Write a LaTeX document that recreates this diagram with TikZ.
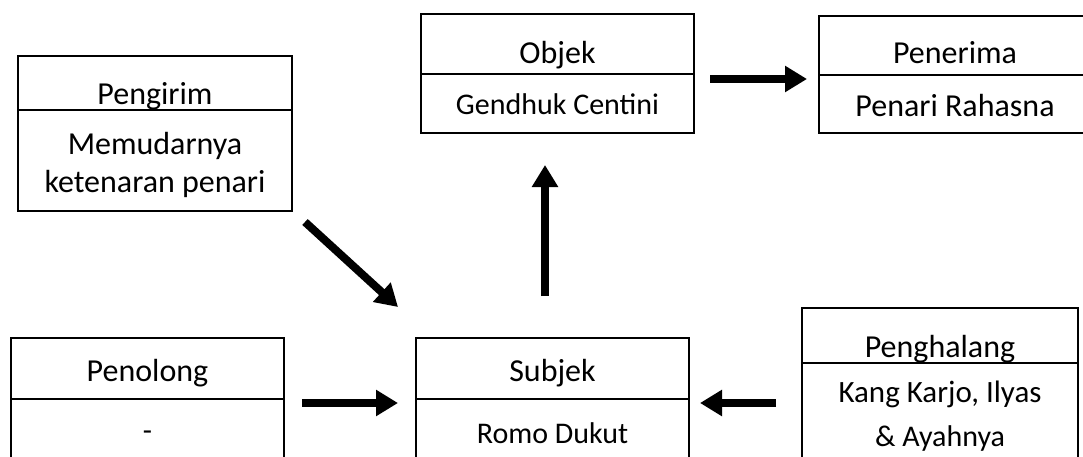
\documentclass[tikz,border=0pt]{standalone}
\usepackage{fontspec}
\setmainfont{Carlito}
\usetikzlibrary{arrows.meta}
\tikzset{
  boxn/.style={draw, line width=2pt, anchor=north west, inner sep=0pt, outer sep=0pt},
  divline/.style={line width=2pt},
  ttl/.style={anchor=base, inner sep=0pt, font=\fontsize{32}{38}\selectfont},
  txt/.style={anchor=base, inner sep=0pt, font=\fontsize{30}{36}\selectfont},
  big/.style={anchor=base, inner sep=0pt, font=\fontsize{32}{38}\selectfont},
  arr/.style={line width=8pt, -{Triangle[length=22pt,width=25pt]}}
}
\begin{document}
\begin{tikzpicture}[x=1pt,y=-1pt]
\useasboundingbox (0,0) rectangle (1083,457);
\clip (0,0) rectangle (1083,457);
% boxes
\node[boxn, minimum width=274pt, minimum height=155pt] (pengirim) at (18,56) {};
\node[boxn, minimum width=273pt, minimum height=119pt] (objek) at (421,14) {};
\node[boxn, minimum width=273pt, minimum height=117pt] (penerima) at (819,16) {};
\node[boxn, minimum width=273pt, minimum height=140pt] (penolong) at (11,338) {};
\node[boxn, minimum width=273pt, minimum height=140pt] (subjek) at (416,338) {};
\node[boxn, minimum width=276pt, minimum height=170pt] (penghalang) at (802,308) {};
% dividers
\draw[divline] (pengirim.west |- 0,110) -- (pengirim.east |- 0,110);
\draw[divline] (objek.west |- 0,74) -- (objek.east |- 0,74);
\draw[divline] (penerima.west |- 0,75) -- (penerima.east |- 0,75);
\draw[divline] (penolong.west |- 0,399) -- (penolong.east |- 0,399);
\draw[divline] (subjek.west |- 0,399) -- (subjek.east |- 0,399);
\draw[divline] (penghalang.west |- 0,363) -- (penghalang.east |- 0,363);
% titles
\begin{scope}
\clip (18,56) rectangle (292,109);
\node[ttl] (tpengirim) at (155,105) {Pengirim};
\end{scope}
\node[ttl] (tobjek) at (557.5,64) {Objek};
\node[ttl] (tpenerima) at (955,64) {Penerima};
\node[ttl] (tpenolong) at (147.5,381) {Penolong};
\node[ttl] (tsubjek) at (552.5,381) {Subjek};
\begin{scope}
\clip (802,308) rectangle (1078,362);
\node[ttl] (tpenghalang) at (940,357) {Penghalang};
\end{scope}
% contents
\node[big] (c1a) at (155,155) {Memudarnya};
\node[big] (c1b) at (155,192) {ketenaran penari};
\node[txt, font=\fontsize{30}{36}\selectfont] (c2) at (557.5,115) {Gendhuk Centini};
\node[big] (c3) at (955,117) {Penari Rahasna};
\node[txt] (c4) at (147.5,440) {-};
\node[txt] (c5) at (552.5,443) {Romo Dukut};
\node[txt, font=\fontsize{31}{37}\selectfont] (c6a) at (940,402) {Kang Karjo, Ilyas};
\node[txt, font=\fontsize{30}{36}\selectfont] (c6b) at (940,446) {\& Ayahnya};
% arrow ends
\coordinate (a1s) at (710,79);  \coordinate (a1e) at (807,79);
\coordinate (a2s) at (545,296); \coordinate (a2e) at (545,165);
\coordinate (a3s) at (305,222); \coordinate (a3e) at (398,307);
\coordinate (a4s) at (302,403); \coordinate (a4e) at (398,403);
\coordinate (a5s) at (776,403); \coordinate (a5e) at (700,403);
\draw[arr] (a1s) -- (a1e);
\draw[arr] (a2s) -- (a2e);
\draw[arr] (a3s) -- (a3e);
\draw[arr] (a4s) -- (a4e);
\draw[arr] (a5s) -- (a5e);
\end{tikzpicture}
\end{document}
